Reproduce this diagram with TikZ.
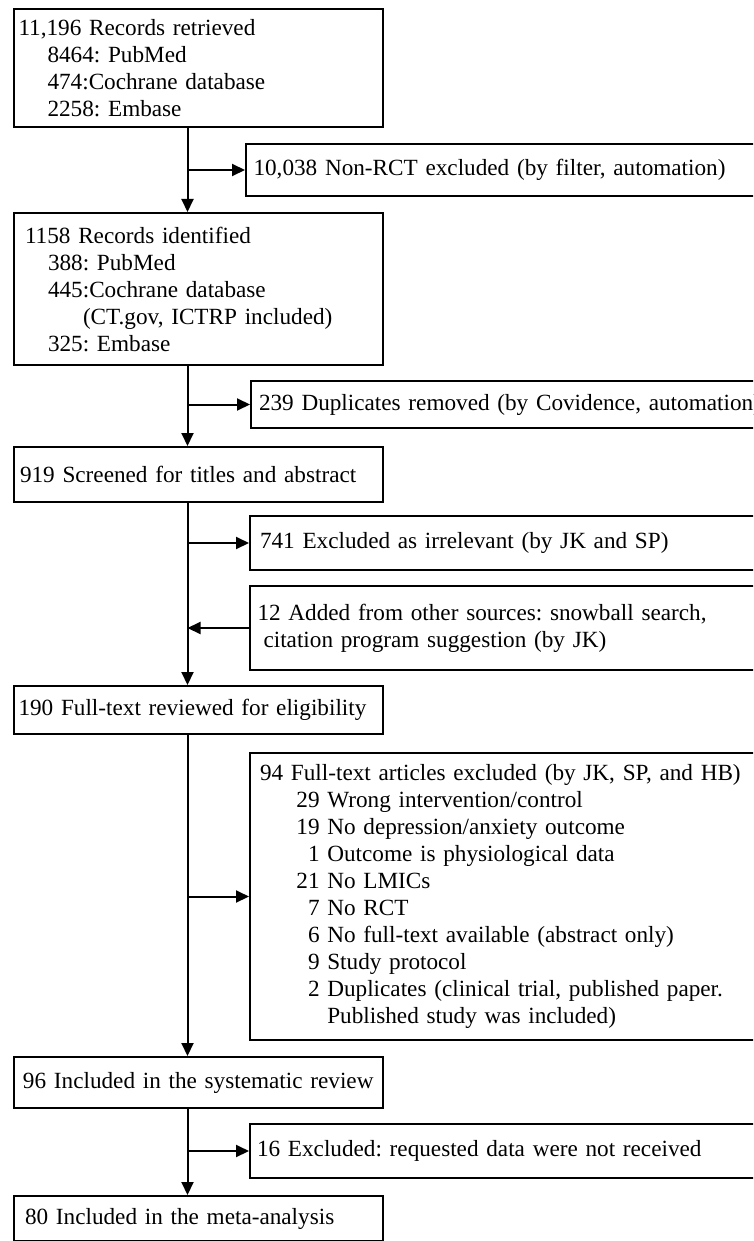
\documentclass[tikz,border=0pt]{standalone}
\usepackage{fontspec}
\setmainfont{Liberation Serif}
\usetikzlibrary{arrows.meta}
\newcommand\myfs{\fontsize{23.2pt}{27pt}\selectfont\frenchspacing}
\newcommand\numcol[1]{\makebox[59.6pt][r]{#1}\ }
\begin{document}
\begin{tikzpicture}[x=1pt,y=-1pt,
  box/.style={draw, line width=2pt, rectangle, align=left, anchor=north west, inner ysep=0pt, font=\myfs},
  arr/.style={line width=2pt, -{Triangle[length=13pt,width=12pt]}}]
\useasboundingbox (0,0) rectangle (753,1241);
\fill[white] (0,0) rectangle (753,1241);
\clip (0,0) rectangle (753,1241);
\coordinate (tr) at (187.5,0);
% left column
\node[box, inner xsep=4.5pt, text width=360pt, minimum height=118pt] (b1) at (13,8)
  {11,196 Records retrieved\\\hspace*{29pt}8464: PubMed\\\hspace*{29pt}474:Cochrane database\\\hspace*{29pt}2258: Embase};
\node[box, inner xsep=11pt, text width=347pt, minimum height=152pt] (b2) at (13,212)
  {1158 Records identified\\\hspace*{23pt}388: PubMed\\\hspace*{23pt}445:Cochrane database\\\hspace*{58pt}(CT.gov, ICTRP included)\\\hspace*{23pt}325: Embase};
\node[box, inner xsep=6pt, text width=357pt, minimum height=55pt] (b3) at (13,446)
  {919 Screened for titles and abstract};
\node[box, inner xsep=4.5pt, text width=360pt, minimum height=48pt] (b4) at (13,685)
  {190 Full-text reviewed for eligibility};
\node[box, inner xsep=9pt, text width=351pt, minimum height=51pt] (b96) at (13,1056)
  {96 Included in the systematic review};
\node[box, inner xsep=11pt, text width=347pt, minimum height=45pt] (b80) at (13,1195)
  {80 Included in the meta-analysis};
% right column
\node[box, inner xsep=7.5pt, text width=525pt, minimum height=52pt] (r1) at (245,143)
  {10,038 Non-RCT excluded (by filter, automation)};
\node[box, inner xsep=8pt, text width=524pt, minimum height=47pt] (r2) at (250,380)
  {239 Duplicates removed (by Covidence, automation)};
\node[box, inner xsep=10pt, text width=520pt, minimum height=54pt] (r3) at (249,515)
  {741 Excluded as irrelevant (by JK and SP)};
\node[box, inner xsep=7.5pt, text width=525pt, minimum height=84pt] (r4) at (249,585)
  {12 Added from other sources: snowball search,\\\hspace*{6pt}citation program suggestion (by JK)};
\node[box, inner xsep=10pt, text width=520pt, minimum height=287pt] (r5) at (249,752)
  {94 Full-text articles excluded (by JK, SP, and HB)\\
   \numcol{29}Wrong intervention/control\\
   \numcol{19}No depression/anxiety outcome\\
   \numcol{1}Outcome is physiological data\\
   \numcol{21}No LMICs\\
   \numcol{7}No RCT\\
   \numcol{6}No full-text available (abstract only)\\
   \numcol{9}Study protocol\\
   \numcol{2}Duplicates (clinical trial, published paper.\\
   \numcol{}Published study was included)};
\node[box, inner xsep=7pt, text width=526pt, minimum height=54pt] (r6) at (249,1123)
  {16 Excluded: requested data were not received};
% connectors
\draw[arr] (b1.south -| tr) -- (b2.north -| tr);
\draw[arr] (r1.west -| tr) -- (r1.west);
\draw[arr] (b2.south -| tr) -- (b3.north -| tr);
\draw[arr] (r2.west -| tr) -- (r2.west);
\draw[arr] (b3.south -| tr) -- (b4.north -| tr);
\draw[arr] (r3.west -| tr) -- (r3.west);
\draw[arr] (r4.west) -- (r4.west -| tr);
\draw[arr] (b4.south -| tr) -- (b96.north -| tr);
\draw[arr] (r5.west -| tr) -- (r5.west);
\draw[arr] (b96.south -| tr) -- (b80.north -| tr);
\draw[arr] (r6.west -| tr) -- (r6.west);
\end{tikzpicture}
\end{document}
